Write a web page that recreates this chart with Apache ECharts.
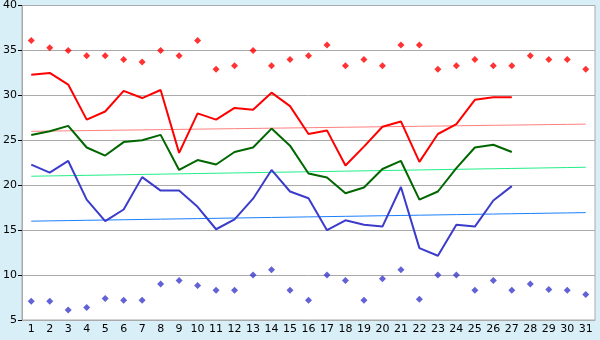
<!DOCTYPE html>
<html>
<head>
<meta charset="utf-8">
<script src="https://cdn.jsdelivr.net/npm/echarts@6/dist/echarts.min.js"></script>
<style>
html, body { margin: 0; padding: 0; background: #d9eff7; }
#main { width: 600px; height: 340px; }
</style>
</head>
<body>
<div id="main"></div>
<script>
// days of the month
var days = [];
for (var d = 1; d <= 31; d++) days.push(String(d));

// record highs / lows (diamonds)
var highRecord = [36.1, 35.3, 35.0, 34.4, 34.4, 34.0, 33.7, 35.0, 34.4, 36.1, 32.9, 33.3, 35.0, 33.3, 34.0, 34.4,
    35.6, 33.3, 34.0, 33.3, 35.6, 35.6, 32.9, 33.3, 34.0, 33.3, 33.3, 34.4, 34.0, 34.0, 32.9];
var lowRecord = [7.1, 7.1, 6.1, 6.4, 7.4, 7.2, 7.2, 9.0, 9.4, 8.85, 8.3, 8.3, 10.0, 10.6, 8.3, 7.2,
    10.0, 9.4, 7.2, 9.6, 10.6, 7.3, 10.0, 10.0, 8.3, 9.4, 8.3, 9.0, 8.4, 8.3, 7.85];

// this month: max, mean, min
var maxTemp = [32.3, 32.5, 31.2, 27.3, 28.2, 30.5, 29.7, 30.6, 23.6, 28.0, 27.3, 28.6, 28.4, 30.3, 28.8, 25.7,
    26.1, 22.2, 24.3, 26.5, 27.1, 22.6, 25.7, 26.8, 29.5, 29.8, 29.8];
var meanTemp = [25.6, 26.0, 26.6, 24.2, 23.3, 24.8, 25.0, 25.6, 21.7, 22.8, 22.3, 23.7, 24.2, 26.3, 24.4, 21.3,
    20.85, 19.1, 19.75, 21.8, 22.7, 18.4, 19.3, 21.9, 24.2, 24.5, 23.7];
var minTemp = [22.3, 21.4, 22.7, 18.4, 16.0, 17.3, 20.9, 19.4, 19.4, 17.6, 15.1, 16.2, 18.5, 21.7, 19.3, 18.55,
    15.0, 16.1, 15.6, 15.4, 19.8, 13.0, 12.15, 15.6, 15.4, 18.3, 19.9];

// normals (start and end of month)
var normalMax = [26.0, 26.8];
var normalMean = [21.0, 22.0];
var normalMin = [16.0, 16.95];

function trend(ends) {
    var out = [];
    for (var i = 0; i < days.length; i++) {
        out.push(+(ends[0] + (ends[1] - ends[0]) * i / (days.length - 1)).toFixed(3));
    }
    return out;
}

var chart = echarts.init(document.getElementById('main'));
var option = {
    backgroundColor: '#d9eff7',
    animation: false,
    grid: {
        left: 20,
        right: 5,
        top: 5,
        bottom: 20,
        show: true,
        backgroundColor: '#ffffff',
        borderColor: '#aaaaaa',
        borderWidth: 1
    },
    xAxis: {
        type: 'category',
        data: days,
        boundaryGap: true,
        axisLine: { lineStyle: { color: '#aaaaaa' } },
        axisTick: { alignWithLabel: true, length: 4, lineStyle: { color: '#000' } },
        axisLabel: { color: '#000', fontFamily: 'DejaVu Sans', fontSize: 11, margin: 4, interval: 0 },
        splitLine: { show: false }
    },
    yAxis: {
        type: 'value',
        min: 5,
        max: 40,
        interval: 5,
        axisLine: { show: true, lineStyle: { color: '#aaaaaa' } },
        axisTick: { show: true, length: 4, lineStyle: { color: '#000' } },
        axisLabel: { color: '#000', fontFamily: 'DejaVu Sans', fontSize: 11, margin: 5 },
        splitLine: { lineStyle: { color: '#aaaaaa' } }
    },
    series: [
        { type: 'line', data: trend(normalMax), symbol: 'none', lineStyle: { color: '#ff8080', width: 1 } },
        { type: 'line', data: trend(normalMean), symbol: 'none', lineStyle: { color: '#22ee88', width: 1 } },
        { type: 'line', data: trend(normalMin), symbol: 'none', lineStyle: { color: '#1a7fff', width: 1 } },
        { type: 'scatter', data: highRecord, symbol: 'diamond', symbolSize: 7, itemStyle: { color: '#ff0000' } },
        { type: 'scatter', data: lowRecord, symbol: 'diamond', symbolSize: 7, itemStyle: { color: '#3b3bcc' } },
        { type: 'line', data: maxTemp, symbol: 'none', lineStyle: { color: '#ff0000', width: 2 } },
        { type: 'line', data: meanTemp, symbol: 'none', lineStyle: { color: '#006600', width: 2 } },
        { type: 'line', data: minTemp, symbol: 'none', lineStyle: { color: '#3b3bcc', width: 2 } }
    ]
};
chart.setOption(option);
</script>
</body>
</html>
